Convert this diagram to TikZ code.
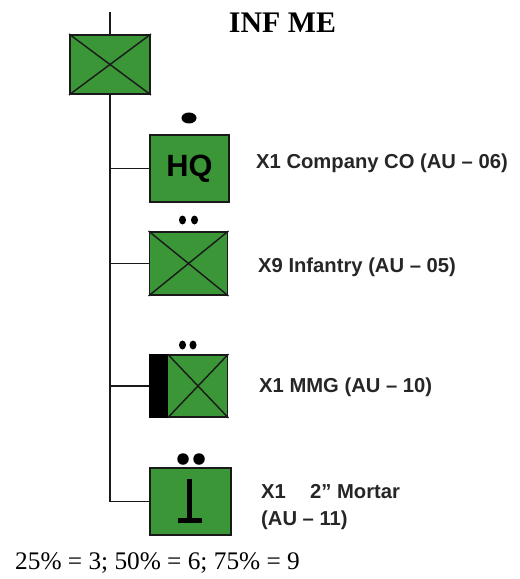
\documentclass[tikz,border=0pt]{standalone}
\usepackage{fontspec}
\setmainfont{Liberation Serif}
\setsansfont{Liberation Sans}
\usepackage{tikz}
\usetikzlibrary{positioning, calc}

\definecolor{unitgreen}{RGB}{58,150,54}

\begin{document}
\begin{tikzpicture}[
    unit/.style={rectangle, draw=black!90, line width=1.1pt, fill=unitgreen, minimum width=1.56cm, minimum height=1.28cm, inner sep=0pt},
    label/.style={anchor=west, align=left, font=\fontsize{11.5}{15}\selectfont\sffamily\bfseries, text=black!85},
    cross/.style={draw=black!90, line width=0.8pt},
    line/.style={draw=black!90, line width=0.9pt},
    dot/.style={fill=black}
]

    \useasboundingbox (0,0) rectangle (10.38,-11.58);

    % Title and parent unit
    \node (title) at (5.65,-0.46) {\fontsize{17}{20}\selectfont\bfseries INF ME};
    \node (top) at (2.2,-1.29) [unit, minimum width=1.6cm, minimum height=1.18cm] {};
    \draw [cross] (top.north west) -- (top.south east);
    \draw [cross] (top.south west) -- (top.north east);
    \coordinate (up) at (2.2,-0.24);

    % Sub units
    \node (hq) at (3.79,-3.37) [unit, minimum width=1.58cm, minimum height=1.34cm] {\fontsize{17.5}{17.5}\selectfont\sffamily\bfseries HQ};
    \node (inf) at (3.77,-5.27) [unit, minimum height=1.26cm] {};
    \node (mmg) at (3.77,-7.72) [unit, minimum height=1.24cm] {};
    \node (mor) at (3.81,-10.03) [unit, minimum width=1.62cm, minimum height=1.34cm] {};

    % Symbols inside the boxes
    \draw [cross] (inf.north west) -- (inf.south east);
    \draw [cross] (inf.south west) -- (inf.north east);
    \fill [black] (mmg.north west) rectangle ($(mmg.south west)+(0.38,0)$);
    \draw [cross] ($(mmg.north west)+(0.38,0)$) -- (mmg.south east);
    \draw [cross] ($(mmg.south west)+(0.38,0)$) -- (mmg.north east);
    \draw [black, line width=2.3pt] ($(mor.center)+(-0.02,0.46)$) -- ($(mor.center)+(-0.02,-0.38)$);
    \draw [black, line width=2.3pt] ($(mor.center)+(-0.26,-0.38)$) -- ($(mor.center)+(0.22,-0.38)$);

    % Size markers
    \fill [dot] (3.78,-2.36) ellipse (0.15 and 0.11);
    \fill [dot] (3.65,-4.4) ellipse (0.07 and 0.09);
    \fill [dot] (3.89,-4.4) ellipse (0.07 and 0.09);
    \fill [dot] (3.65,-6.9) ellipse (0.07 and 0.09);
    \fill [dot] (3.86,-6.9) ellipse (0.07 and 0.09);
    \fill [dot] (3.66,-9.18) circle (0.115);
    \fill [dot] (3.98,-9.18) circle (0.115);

    % Labels
    \node (hqlbl) at (5.0,-3.26) [label] {X1 Company CO (AU -- 06)};
    \node (inflbl) at (5.04,-5.34) [label] {X9 Infantry (AU -- 05)};
    \node (mmglbl) at (5.06,-7.74) [label] {X1 MMG (AU -- 10)};
    \node (morlbl) at (5.1,-10.14) [label] {X1\hspace{1.2em}2'' Mortar\\(AU -- 11)};
    \node (note) at (0.18,-11.26) [anchor=west] {\fontsize{14.4}{16}\selectfont 25\% = 3; 50\% = 6; 75\% = 9};

    % Connectors
    \coordinate (end) at (2.2,-10.03);
    \draw [line] (up) -- (top.north);
    \draw [line] (top.south) -- (end);
    \draw [line] (hq.west -| end) -- (hq.west);
    \draw [line] (inf.west -| end) -- (inf.west);
    \draw [line] (mmg.west -| end) -- (mmg.west);
    \draw [line] (end) -- (mor.west);

\end{tikzpicture}
\end{document}
